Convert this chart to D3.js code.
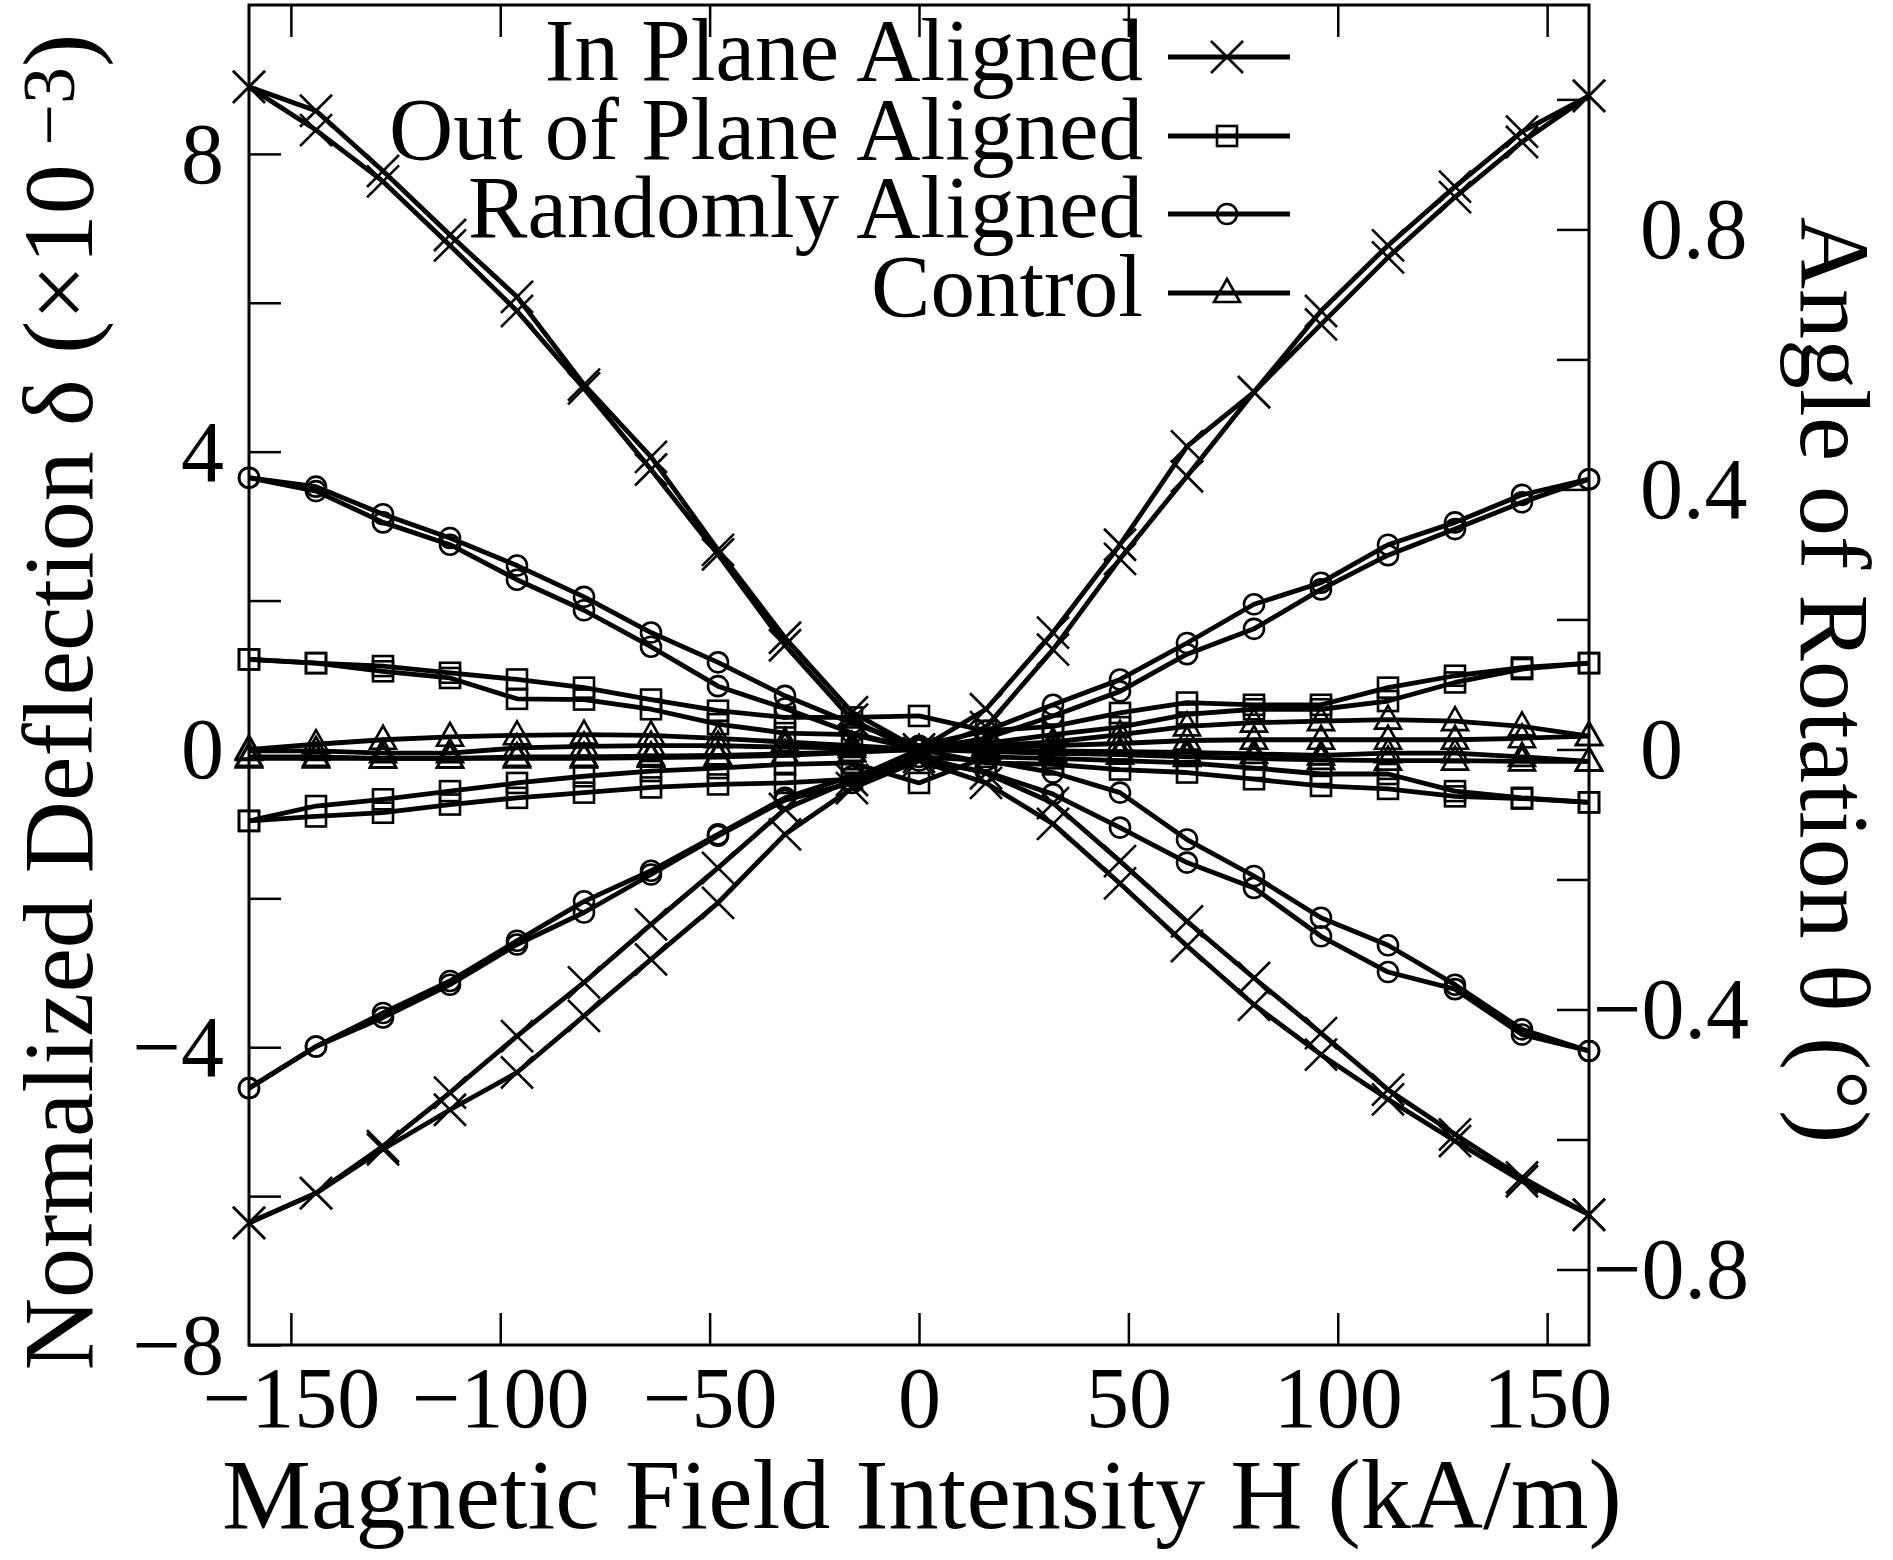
<!DOCTYPE html>
<html>
<head>
<meta charset="utf-8">
<script src="https://cdn.jsdelivr.net/npm/d3@7"></script>
<style>
  body { margin: 0; background: #fff; }
  svg { display: block; }
  text { font-family: "Liberation Serif", "Times New Roman", serif; fill: #000; }
</style>
</head>
<body>
<div id="chart"></div>
<script>
// field values (kA/m)
const fieldH = [-160, -144, -128, -112, -96, -80, -64, -48, -32, -16, 0, 16, 32, 48, 64, 80, 96, 112, 128, 144, 160];

// normalized deflection (x10^-3), four sweeps per sample
const ipPosA = [8.90, 8.58, 7.77, 6.91, 6.08, 4.90, 3.93, 2.68, 1.50, 0.50, 0.00, 0.54, 1.57, 2.75, 4.07, 4.80, 5.89, 6.77, 7.56, 8.30, 8.78];
const ipPosB = [8.90, 8.32, 7.63, 6.77, 5.89, 4.85, 3.76, 2.62, 1.40, 0.40, -0.05, 0.30, 1.34, 2.56, 3.67, 4.80, 5.71, 6.61, 7.42, 8.16, 8.78];
const ipNegA = [-6.36, -5.96, -5.33, -4.61, -3.85, -3.13, -2.35, -1.59, -0.80, -0.41, -0.10, -0.32, -0.72, -1.50, -2.31, -3.07, -3.81, -4.57, -5.17, -5.75, -6.25];
const ipNegB = [-6.36, -5.96, -5.37, -4.84, -4.34, -3.58, -2.82, -2.06, -1.14, -0.52, -0.15, -0.45, -1.00, -1.80, -2.64, -3.43, -4.10, -4.70, -5.26, -5.80, -6.25];

const oopPosA = [1.21, 1.16, 1.12, 1.03, 0.94, 0.83, 0.67, 0.52, 0.43, 0.43, 0.45, 0.25, 0.31, 0.49, 0.63, 0.60, 0.60, 0.83, 0.99, 1.10, 1.16];
const oopPosB = [1.21, 1.16, 1.05, 0.96, 0.68, 0.67, 0.54, 0.34, 0.22, 0.20, 0.00, 0.08, 0.20, 0.30, 0.47, 0.54, 0.54, 0.65, 0.90, 1.08, 1.16];
const oopNegA = [-0.96, -0.76, -0.67, -0.56, -0.45, -0.36, -0.29, -0.25, -0.20, -0.18, -0.45, -0.10, -0.12, -0.15, -0.18, -0.25, -0.33, -0.33, -0.56, -0.65, -0.71];
const oopNegB = [-0.96, -0.90, -0.85, -0.74, -0.65, -0.58, -0.51, -0.47, -0.45, -0.40, 0.00, -0.18, -0.20, -0.27, -0.31, -0.40, -0.49, -0.53, -0.63, -0.66, -0.71];

const raPosA = [3.65, 3.53, 3.16, 2.84, 2.47, 2.05, 1.57, 1.17, 0.72, 0.35, 0.05, 0.25, 0.60, 0.94, 1.43, 1.95, 2.24, 2.75, 3.05, 3.42, 3.63];
const raPosB = [3.65, 3.47, 3.05, 2.75, 2.28, 1.87, 1.38, 0.85, 0.55, 0.22, 0.00, 0.15, 0.45, 0.78, 1.28, 1.62, 2.15, 2.61, 2.96, 3.32, 3.63];
const raNegA = [-4.55, -3.99, -3.54, -3.11, -2.57, -2.04, -1.63, -1.14, -0.65, -0.36, -0.10, -0.15, -0.31, -0.58, -1.21, -1.70, -2.26, -2.63, -3.16, -3.76, -4.05];
const raNegB = [-4.55, -3.99, -3.60, -3.16, -2.62, -2.19, -1.68, -1.16, -0.68, -0.45, -0.15, -0.30, -0.60, -1.05, -1.52, -1.86, -2.51, -2.99, -3.22, -3.83, -4.05];

const ctrlPosA = [0.00, 0.07, 0.13, 0.17, 0.19, 0.20, 0.19, 0.15, 0.10, 0.05, 0.00, 0.05, 0.10, 0.20, 0.31, 0.36, 0.38, 0.40, 0.38, 0.31, 0.18];
const ctrlPosB = [-0.02, -0.02, -0.05, -0.05, 0.02, 0.04, 0.05, 0.05, 0.03, 0.02, 0.00, 0.03, 0.05, 0.08, 0.12, 0.13, 0.13, 0.13, 0.13, 0.15, 0.18];
const ctrlNegA = [-0.10, -0.10, -0.12, -0.12, -0.10, -0.10, -0.09, -0.08, -0.06, -0.03, 0.00, -0.01, -0.02, -0.03, -0.04, -0.06, -0.08, -0.05, -0.05, -0.10, -0.16];
const ctrlNegB = [-0.12, -0.12, -0.12, -0.12, -0.12, -0.12, -0.11, -0.10, -0.08, -0.04, 0.00, -0.03, -0.05, -0.07, -0.10, -0.12, -0.14, -0.15, -0.15, -0.16, -0.16];

const sampleNames = ["In Plane Aligned", "Out of Plane Aligned", "Randomly Aligned", "Control"];
const sampleMarkers = ["cross", "square", "circle", "triangle"];

const xTicks = [-150, -100, -50, 0, 50, 100, 150];
const yTicks = [-8, -6, -4, -2, 0, 2, 4, 6, 8];
const yLabels = [-8, -4, 0, 4, 8];
const y2Ticks = [-0.8, -0.6, -0.4, -0.2, 0, 0.2, 0.4, 0.6, 0.8, 1.0];
const y2Labels = [-0.8, -0.4, 0, 0.4, 0.8];
const degPerDefl = 0.11452; // right axis: degrees per 10^-3 deflection

const samples = [
  { sweeps: [ipPosA, ipPosB, ipNegA, ipNegB] },
  { sweeps: [oopPosA, oopPosB, oopNegA, oopNegB] },
  { sweeps: [raPosA, raPosB, raNegA, raNegB] },
  { sweeps: [ctrlPosA, ctrlPosB, ctrlNegA, ctrlNegB] }
];
samples.forEach((s, i) => { s.name = sampleNames[i]; s.marker = sampleMarkers[i]; });

const width = 1893, height = 1560;
const plot = { left: 249, right: 1589, top: 5, bottom: 1345 };

const svg = d3.select("#chart").append("svg")
  .attr("width", width)
  .attr("height", height);

const x = d3.scaleLinear().domain([-160, 160]).range([plot.left, plot.right]);
const y = d3.scaleLinear().domain([-8, 10]).range([plot.bottom, plot.top]);
const y2 = d3.scaleLinear().domain([-8 * degPerDefl, 10 * degPerDefl]).range([plot.bottom, plot.top]);

const minus = v => String(v).replace("-", "\u2212");

// ticks (inward)
const gx = svg.append("g")
  .attr("transform", `translate(0,${plot.bottom})`)
  .call(d3.axisBottom(x).tickValues(xTicks).tickSize(-32).tickFormat(minus));
gx.select(".domain").remove();
gx.selectAll("line").attr("stroke-width", 2.5);
gx.selectAll("text").attr("y", 82).attr("dy", null).attr("font-size", 86);

const gxTop = svg.append("g")
  .attr("transform", `translate(0,${plot.top})`)
  .call(d3.axisTop(x).tickValues(xTicks).tickSize(-32).tickFormat(""));
gxTop.select(".domain").remove();
gxTop.selectAll("line").attr("stroke-width", 2.5);

const gy = svg.append("g")
  .attr("transform", `translate(${plot.left},0)`)
  .call(d3.axisLeft(y).tickValues(yTicks).tickSize(-32).tickPadding(25)
    .tickFormat(d => yLabels.includes(d) ? minus(d) : ""));
gy.select(".domain").remove();
gy.selectAll("line").attr("stroke-width", 2.5);
gy.selectAll("text").attr("font-size", 86).attr("dy", "0.33em");

const gy2 = svg.append("g")
  .attr("transform", `translate(${plot.right},0)`)
  .call(d3.axisRight(y2).tickValues(y2Ticks).tickSize(-32)
    .tickFormat(d => y2Labels.some(v => Math.abs(v - d) < 1e-9) ? minus(+d.toFixed(1)) : ""));
gy2.select(".domain").remove();
gy2.selectAll("line").attr("stroke-width", 2.5);
gy2.selectAll("text")
  .attr("font-size", 86)
  .attr("dy", "0.33em")
  .attr("text-anchor", d => d < 0 ? "end" : "start")
  .attr("x", d => d < 0 ? 160 : 51);

// frame
svg.append("rect")
  .attr("x", plot.left).attr("y", plot.top)
  .attr("width", plot.right - plot.left).attr("height", plot.bottom - plot.top)
  .attr("fill", "none").attr("stroke", "#000").attr("stroke-width", 3);

// markers
function drawMarker(g, type, cx, cy) {
  if (type === "cross") {
    g.append("path")
      .attr("d", `M${cx - 16},${cy - 16}L${cx + 16},${cy + 16}M${cx - 16},${cy + 16}L${cx + 16},${cy - 16}`);
  } else if (type === "square") {
    g.append("rect").attr("x", cx - 10).attr("y", cy - 10).attr("width", 20).attr("height", 20);
  } else if (type === "circle") {
    g.append("circle").attr("cx", cx).attr("cy", cy).attr("r", 10);
  } else {
    g.append("path").attr("d", `M${cx},${cy - 14}L${cx - 13},${cy + 9}L${cx + 13},${cy + 9}Z`);
  }
}

const line = d3.line()
  .x((d, i) => x(fieldH[i]))
  .y(d => y(d));

const dataLayer = svg.append("g");
samples.slice().reverse().forEach(s => {
  s.sweeps.forEach(vals => {
    dataLayer.append("path")
      .datum(vals)
      .attr("fill", "none")
      .attr("stroke", "#000")
      .attr("stroke-width", 4.8)
      .attr("stroke-linejoin", "round")
      .attr("d", line);
    const mg = dataLayer.append("g")
      .attr("fill", "none").attr("stroke", "#000").attr("stroke-width", 2.6);
    vals.forEach((v, i) => drawMarker(mg, s.marker, x(fieldH[i]), y(v)));
  });
});

// legend
const legendRowY = [57, 136, 214, 293];
const legend = svg.append("g");
samples.forEach((s, i) => {
  const ly = legendRowY[i];
  legend.append("text")
    .attr("x", 1143).attr("y", ly + 23)
    .attr("text-anchor", "end")
    .attr("font-size", 89)
    .text(s.name);
  legend.append("line")
    .attr("x1", 1168).attr("x2", 1290).attr("y1", ly).attr("y2", ly)
    .attr("stroke", "#000").attr("stroke-width", 4.8);
  const mg = legend.append("g").attr("fill", "none").attr("stroke", "#000").attr("stroke-width", 2.6);
  drawMarker(mg, s.marker, 1227, ly);
});

// axis titles
svg.append("text")
  .attr("x", 922).attr("y", 1528)
  .attr("text-anchor", "middle")
  .attr("font-size", 100)
  .text("Magnetic Field Intensity H (kA/m)");

const yTitle = svg.append("text")
  .attr("transform", "translate(92,702) rotate(-90)")
  .attr("text-anchor", "middle")
  .attr("font-size", 100);
yTitle.append("tspan").text("Normalized Deflection \u03b4 (\u00d710");
yTitle.append("tspan").attr("dy", -18).attr("font-size", 74).text(" \u22123");
yTitle.append("tspan").attr("dy", 18).text(")");

svg.append("text")
  .attr("transform", "translate(1801,680) rotate(90)")
  .attr("text-anchor", "middle")
  .attr("font-size", 100)
  .text("Angle of Rotation \u03b8 (\u00b0)");
</script>
</body>
</html>
